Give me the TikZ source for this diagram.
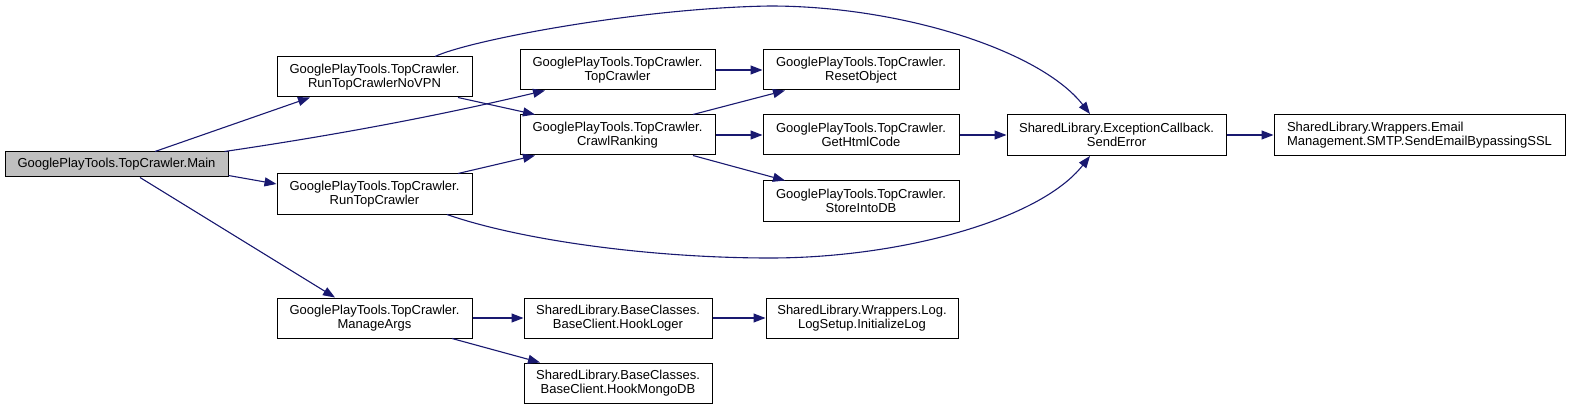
\documentclass[tikz,border=0pt]{standalone}
\usepackage{fontspec}
\setmainfont{Liberation Sans}
\usetikzlibrary{arrows.meta}
\definecolor{edgeblue}{HTML}{191970}
\definecolor{mainfill}{HTML}{BFBFBF}
\begin{document}
\begin{tikzpicture}[x=1pt,y=-1pt,
  box/.style={draw=black, line width=1pt, fill=white, inner sep=0pt, align=center,
    minimum height=40pt, font=\fontsize{13}{13.5}\selectfont},
  edge/.style={draw=edgeblue, line width=1.1pt, -{Triangle[length=12pt,width=9pt]}}]
\path[use as bounding box] (0,0) rectangle (1572,409);
% nodes
\node[box, fill=mainfill, minimum width=223pt, minimum height=25pt] (main) at (116.5,164.5) {GooglePlayTools.TopCrawler.Main};
\node[box, minimum width=195pt] (novpn) at (374.5,77) {GooglePlayTools.TopCrawler.\\RunTopCrawlerNoVPN};
\node[box, minimum width=195pt] (rtc) at (374.5,194) {GooglePlayTools.TopCrawler.\\RunTopCrawler};
\node[box, minimum width=195pt] (margs) at (374.5,318) {GooglePlayTools.TopCrawler.\\ManageArgs};
\node[box, minimum width=195pt] (topc) at (617.5,70) {GooglePlayTools.TopCrawler.\\TopCrawler};
\node[box, minimum width=195pt] (crawl) at (617.5,135) {GooglePlayTools.TopCrawler.\\CrawlRanking};
\node[box, minimum width=196pt] (reset) at (861,70) {GooglePlayTools.TopCrawler.\\ResetObject};
\node[box, minimum width=196pt] (html) at (861,135) {GooglePlayTools.TopCrawler.\\GetHtmlCode};
\node[box, minimum width=196pt] (store) at (861,201) {GooglePlayTools.TopCrawler.\\StoreIntoDB};
\node[box, minimum width=219pt, minimum height=41pt] (senderr) at (1116.5,135) {SharedLibrary.ExceptionCallback.\\SendError};
\node[box, minimum width=291pt, minimum height=41pt, align=left] (email) at (1419.5,135) {SharedLibrary.Wrappers.Email\\Management.SMTP.SendEmailBypassingSSL};
\node[box, minimum width=188pt] (hooklog) at (618,318) {SharedLibrary.BaseClasses.\\BaseClient.HookLoger};
\node[box, minimum width=192pt] (initlog) at (862,318) {SharedLibrary.Wrappers.Log.\\LogSetup.InitializeLog};
\node[box, minimum width=188pt] (mongo) at (618,383) {SharedLibrary.BaseClasses.\\BaseClient.HookMongoDB};
% edges
\draw[edge] ([xshift=38.5pt]main.north) -- ([xshift=-64.5pt]novpn.south);
\draw[edge] ([xshift=-4pt]main.north east) .. controls (350,133) and (450,113) .. ([xshift=-72.5pt]topc.south);
\draw[edge] ([yshift=-11pt]main.east) -- ([yshift=10pt]rtc.west);
\draw[edge] ([xshift=23.5pt]main.south) -- ([xshift=-39.5pt]margs.north);
\draw[edge] ([xshift=83.5pt]novpn.south) -- ([xshift=-82.5pt]crawl.north);
\draw[edge] ([xshift=83.5pt]rtc.north) -- ([xshift=-82.5pt]crawl.south);
\draw[edge] (topc.east) -- (reset.west);
\draw[edge] ([xshift=75.5pt]crawl.north) -- ([xshift=-76pt]reset.south);
\draw[edge] (crawl.east) -- (html.west);
\draw[edge] ([xshift=75.5pt]crawl.south) -- ([xshift=-76pt]store.north);
\draw[edge] (html.east) -- (senderr.west);
\draw[edge] (senderr.east) -- (email.west);
\draw[edge] (margs.east) -- (hooklog.west);
\draw[edge] ([xshift=77.5pt]margs.south) -- ([xshift=-78pt]mongo.north);
\draw[edge] (hooklog.east) -- (initlog.west);
\draw[edge] ([xshift=60.5pt]novpn.north) .. controls (470,40) and (640,8) .. (770,6)
  .. controls (900,6) and (1040,50) .. ([xshift=-26.5pt]senderr.north);
\draw[edge] ([xshift=72.5pt]rtc.south) .. controls (520,240) and (650,258) .. (770,258)
  .. controls (900,258) and (1040,220) .. ([xshift=-26.5pt]senderr.south);
\end{tikzpicture}
\end{document}
